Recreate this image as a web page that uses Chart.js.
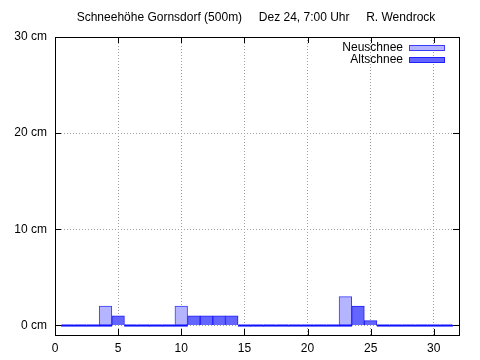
<!DOCTYPE html>
<html>
<head>
<meta charset="utf-8">
<script src="https://cdn.jsdelivr.net/npm/chart.js@4"></script>
<style>
  html, body { margin: 0; padding: 0; background: #fff; }
  #wrap { width: 480px; height: 360px; }
</style>
</head>
<body>
<div id="wrap"><canvas id="snowChart" width="480" height="360"></canvas></div>
<script>
// ---------- DATA ----------
const titleText = "Schneehöhe Gornsdorf (500m)     Dez 24, 7:00 Uhr     R. Wendrock";
const days = [1, 2, 3, 4, 5, 6, 7, 8, 9, 10, 11, 12, 13, 14, 15, 16,
  17, 18, 19, 20, 21, 22, 23, 24, 25, 26, 27, 28, 29, 30, 31];
const neuschnee = [0, 0, 0, 2, 0, 0, 0, 0, 0, 2, 0, 0, 0, 0, 0, 0,
  0, 0, 0, 0, 0, 0, 3, 0, 0, 0, 0, 0, 0, 0, 0];
const altschnee = [0, 0, 0, 0, 1, 0, 0, 0, 0, 0, 1, 1, 1, 1, 0, 0,
  0, 0, 0, 0, 0, 0, 0, 2, 0.5, 0, 0, 0, 0, 0, 0];
const xTicks = [0, 5, 10, 15, 20, 25, 30];
const yTicks = [0, 10, 20, 30];

const FONT = "'Liberation Sans', Arial, sans-serif";
const NEU_FILL = "#b4b4ff", NEU_LINE = "#3c3cff";
const ALT_FILL = "#6464ff", ALT_LINE = "#2020ff";

// ---------- PLUGINS ----------
// frame, inward ticks, title and legend, gnuplot style
const decor = {
  id: "decor",
  afterDraw(chart) {
    const ctx = chart.ctx;
    const a = chart.chartArea;
    const xs = chart.scales.x, ys = chart.scales.y;
    ctx.save();

    ctx.strokeStyle = "#000";
    ctx.lineWidth = 1;
    ctx.strokeRect(Math.round(a.left) + 0.5, Math.round(a.top) + 0.5,
      Math.round(a.right - a.left), Math.round(a.bottom - a.top));

    ctx.beginPath();
    xTicks.forEach(t => {
      const px = Math.round(xs.getPixelForValue(t)) + 0.5;
      ctx.moveTo(px, a.bottom); ctx.lineTo(px, a.bottom - 6);
      ctx.moveTo(px, a.top); ctx.lineTo(px, a.top + 6);
    });
    yTicks.forEach(t => {
      const py = Math.round(ys.getPixelForValue(t)) + 0.5;
      ctx.moveTo(a.left, py); ctx.lineTo(a.left + 6, py);
      ctx.moveTo(a.right, py); ctx.lineTo(a.right - 6, py);
    });
    ctx.stroke();

    // title
    ctx.fillStyle = "#000";
    ctx.font = "12px " + FONT;
    ctx.textAlign = "center";
    ctx.textBaseline = "middle";
    ctx.fillText(titleText, 256, 18);

    // legend
    const swatches = [[NEU_FILL, NEU_LINE], [ALT_FILL, ALT_LINE]];
    ctx.textAlign = "right";
    chart.data.datasets.forEach((ds, i) => {
      const y = 48 + i * 12;
      ctx.fillStyle = "#000";
      ctx.fillText(ds.label, 403, y);
      ctx.fillStyle = swatches[i][0];
      ctx.fillRect(409, y - 3, 36, 6);
      ctx.strokeStyle = swatches[i][1];
      ctx.strokeRect(409.5, y - 2.5, 35, 5);
    });
    ctx.restore();
  }
};

// ---------- CHART ----------
new Chart(document.getElementById("snowChart"), {
  type: "bar",
  data: {
    labels: days,
    datasets: [{
      label: "Neuschnee",
      data: neuschnee,
      backgroundColor: NEU_FILL,
      borderColor: NEU_LINE,
      borderWidth: 1,
      order: 2
    }, {
      label: "Altschnee",
      data: altschnee,
      // zero days show up as a flat blue line on the ground
      backgroundColor: c => c.raw === 0 ? "#1010ff" : ALT_FILL,
      borderColor: c => c.raw === 0 ? "#1010ff" : ALT_LINE,
      borderWidth: 1,
      minBarLength: 2,
      order: 1
    }]
  },
  plugins: [decor],
  options: {
    responsive: false,
    animation: false,
    grouped: false,
    categoryPercentage: 1,
    barPercentage: 1,
    layout: { padding: { top: 37, right: 21, left: 0, bottom: 0 } },
    plugins: {
      legend: { display: false },
      title: { display: false },
      tooltip: { enabled: false }
    },
    scales: {
      x: {
        type: "linear",
        min: 0,
        max: 32,
        offset: false,
        afterFit: s => { s.height = 25; },
        afterBuildTicks: s => { s.ticks = xTicks.map(v => ({ value: v })); },
        ticks: { color: "#000", font: { family: FONT, size: 12 }, padding: 6 },
        grid: { color: "#a0a0a0", offset: false, drawTicks: false },
        border: { display: false, dash: [1, 2] }
      },
      y: {
        min: -1,
        max: 30,
        afterFit: s => { s.width = 55; },
        afterBuildTicks: s => { s.ticks = yTicks.map(v => ({ value: v })); },
        ticks: {
          color: "#000",
          font: { family: FONT, size: 12 },
          padding: 8,
          callback: v => v + " cm"
        },
        grid: { color: "#a0a0a0", drawTicks: false },
        border: { display: false, dash: [1, 2] }
      }
    }
  }
});
</script>
</body>
</html>
